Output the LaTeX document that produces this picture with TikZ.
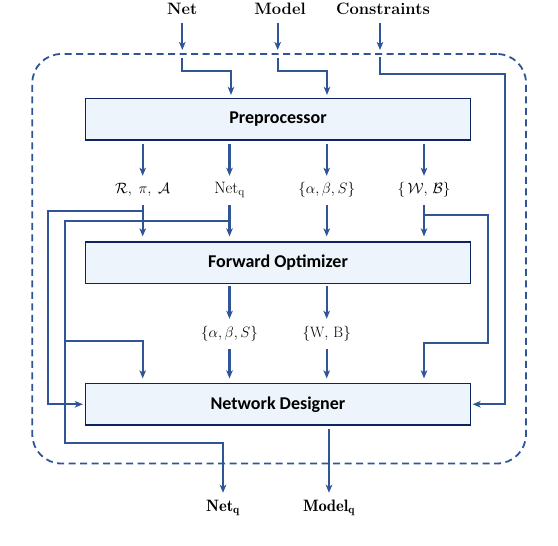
\RequirePackage{fix-cm}
\documentclass[tikz,border=0pt]{standalone}
\usepackage{fontspec}
\newfontfamily\boxfont{Carlito}
\usetikzlibrary{arrows.meta,calc}
\definecolor{lc}{HTML}{2F5597}
\definecolor{bc}{HTML}{0C2461}
\definecolor{bfill}{HTML}{EDF4FB}
\tikzset{
  line/.style={draw=lc, line width=2.3pt},
  arr/.style={line, -{Stealth[length=8pt,width=6.5pt,inset=2pt]}},
  stagebox/.style={draw=bc, line width=1.2pt, fill=bfill, minimum width=385pt, minimum height=41.5pt, inner sep=0pt,
     font=\boxfont\bfseries\fontsize{18}{20}\selectfont},
  iolabel/.style={inner sep=0pt, minimum height=26pt, font=\bfseries\fontsize{16.5}{19}\selectfont},
  midlabel/.style={inner sep=0pt, minimum height=28pt, font=\fontsize{15}{18}\selectfont},
  framebox/.style={draw=lc, line width=1.8pt, dash pattern=on 7pt off 4.5pt, rounded corners=29pt, inner sep=0pt,
     minimum width=493.7pt, minimum height=409.5pt}
}
\begin{document}
\begin{tikzpicture}[x=1pt,y=-1pt]
\useasboundingbox (0,0) rectangle (558,546);

% frame
\node[framebox] (frame) at (279.15,258.75) {};

% inputs
\node[iolabel] (net) at (182.3,9) {Net};
\node[iolabel] (model) at (280,9) {Model};
\node[iolabel] (cons) at (383,9) {Constraints};

% stages
\node[stagebox] (pre) at (278,119.25) {Preprocessor};
\node[stagebox] (fo) at (278,262.75) {Forward Optimizer};
\node[stagebox] (nd) at (278,404.25) {Network Designer};

% labels row 1
\node[midlabel] (l1) at (142.7,190) {$\mathcal{R},\;\pi,\;\mathcal{A}$};
\node[midlabel] (l2) at (229.5,190) {\fontsize{16.5}{18}\selectfont$\mathrm{Net_q}$};
\node[midlabel] (l3) at (326.7,190) {$\{\alpha,\beta,S\}$};
\node[midlabel] (l4) at (424,190) {$\{\,\mathcal{W},\,\mathcal{B}\}$};
% labels row 2
\node[midlabel] (l5) at (229.5,334) {$\{\alpha,\beta,S\}$};
\node[midlabel] (l6) at (326.7,334) {$\{\mathrm{W},\,\mathrm{B}\}$};

% outputs
\node[iolabel] (onet) at (223,508) {$\mathbf{Net_q}$};
\node[iolabel] (omodel) at (329,508) {$\mathbf{Model_q}$};

% coordinates
\coordinate (ni) at (182.3,50);
\coordinate (mi) at (277.7,50);
\coordinate (ci) at (380,50);
\coordinate (n1) at (182.3,58);
\coordinate (n2) at (231,71);
\coordinate (m1) at (277.7,58);
\coordinate (m2) at (327,71);
\coordinate (c1) at (380,57);
\coordinate (c2) at (505.3,74);
\coordinate (b1) at (142.7,210.7);
\coordinate (L1) at (48.3,404.25);
\coordinate (b2) at (229.5,220.7);
\coordinate (L2) at (65,443.3);
\coordinate (b3) at (65,341);
\coordinate (b4) at (424,215);
\coordinate (R1) at (487.7,342.7);

% input arrows
\draw[arr, shorten <=1pt] (net.south) -- (ni);
\draw[arr, shorten <=1pt] (model.south -| mi) -- (mi);
\draw[arr, shorten <=1pt] (cons.south -| ci) -- (ci);

% inside frame, into preprocessor / designer
\draw[arr, shorten >=3pt] (n1) |- (n2) -- (n2 |- pre.north);
\draw[arr, shorten >=3pt] (m1) |- (m2) -- (m2 |- pre.north);
\draw[arr, shorten >=1.5pt] (c1) |- (c2) |- (nd.east);

% preprocessor to labels
\foreach \l in {l1,l2,l3,l4}{
  \draw[arr, shorten <=3.5pt] (pre.south -| \l) -- (\l.north);
  \draw[arr, shorten <=1pt, shorten >=5pt] (\l.south) -- (fo.north -| \l);
}
% forward optimizer to labels
\foreach \l in {l5,l6}{
  \draw[arr, shorten <=1.5pt, shorten >=1pt] (fo.south -| \l) -- (\l.north);
  \draw[arr, shorten <=1pt, shorten >=4.5pt] (\l.south) -- (nd.north -| \l);
}

% feedback lines
\draw[arr, shorten >=2pt] (b1) -| (L1) -- (nd.west);
\draw[arr, shorten >=2pt] (b2) -| (L2) -| (onet.north);
\draw[arr, shorten >=4.5pt] (b3) -| (nd.north -| l1);
\draw[arr, shorten >=4.5pt] (b4) -| (R1) -| (nd.north -| l4);

% designer output
\draw[arr, shorten <=3pt, shorten >=2pt] (nd.south -| omodel) -- (omodel.north);
\end{tikzpicture}
\end{document}
